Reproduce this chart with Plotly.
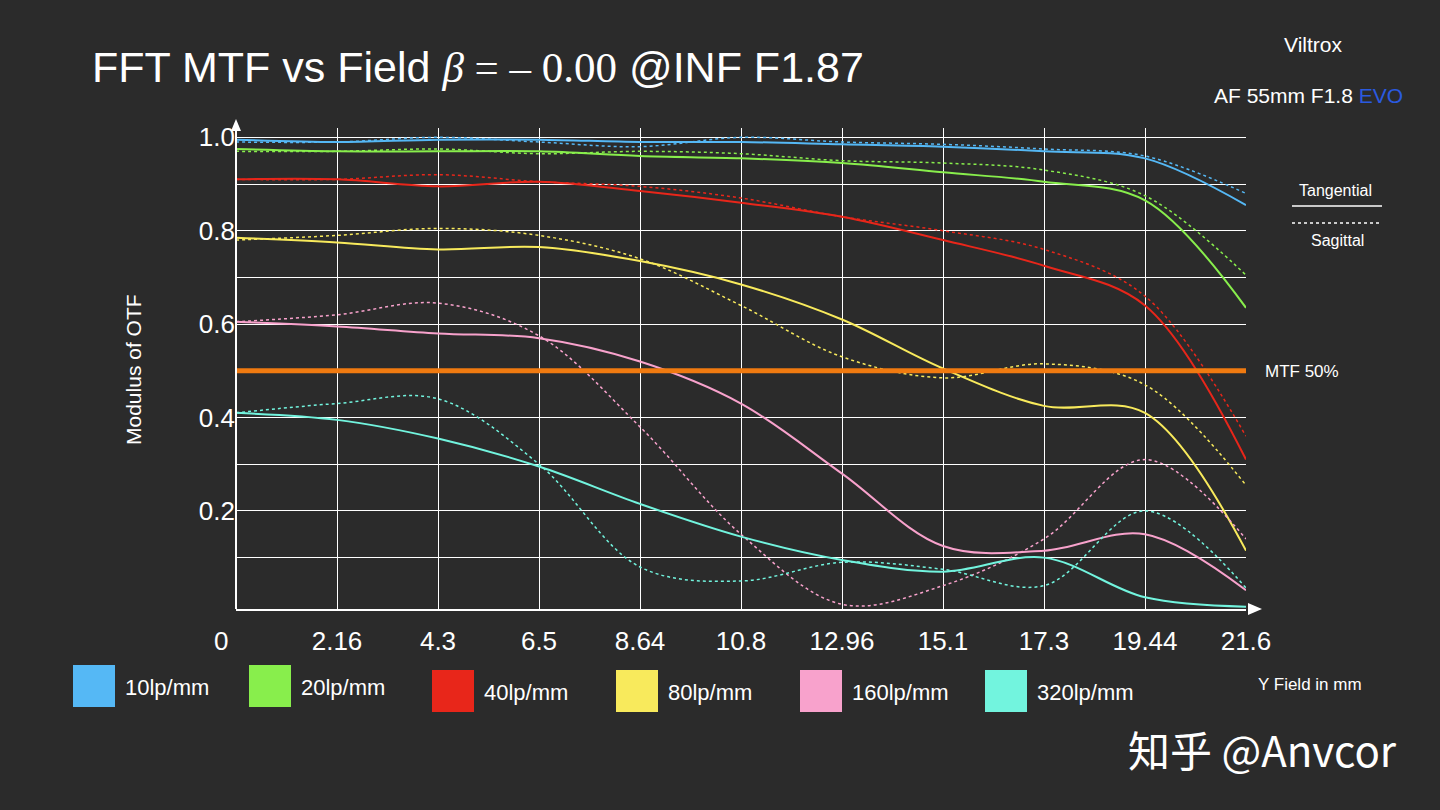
import plotly.graph_objects as go

x = [0, 2.16, 4.32, 6.48, 8.64, 10.8, 12.96, 15.12, 17.28, 19.44, 21.6]
tick_vals = [2.16, 4.32, 6.48, 8.64, 10.8, 12.96, 15.12, 17.28, 19.44, 21.6]
tick_text = ["2.16", "4.3", "6.5", "8.64", "10.8", "12.96", "15.1", "17.3", "19.44", "21.6"]
names = ["10lp/mm", "20lp/mm", "40lp/mm", "80lp/mm", "160lp/mm", "320lp/mm"]
colors = ["#55b8f5", "#88ee4c", "#e8261a", "#f8ea5c", "#f8a2cc", "#72f4de"]
tan = [
    [0.995, 0.99, 0.995, 0.995, 0.99, 0.99, 0.985, 0.98, 0.97, 0.955, 0.855],
    [0.975, 0.97, 0.97, 0.97, 0.96, 0.955, 0.945, 0.925, 0.905, 0.865, 0.635],
    [0.91, 0.91, 0.895, 0.905, 0.885, 0.86, 0.83, 0.78, 0.725, 0.64, 0.31],
    [0.785, 0.775, 0.76, 0.765, 0.735, 0.685, 0.61, 0.505, 0.425, 0.41, 0.115],
    [0.605, 0.595, 0.58, 0.57, 0.52, 0.43, 0.28, 0.125, 0.115, 0.15, 0.03],
    [0.41, 0.395, 0.355, 0.295, 0.215, 0.145, 0.095, 0.07, 0.1, 0.015, -0.005],
]
sag = [
    [0.99, 0.99, 1.0, 0.99, 0.98, 1.0, 0.99, 0.985, 0.975, 0.96, 0.88],
    [0.97, 0.97, 0.975, 0.965, 0.97, 0.965, 0.95, 0.945, 0.93, 0.875, 0.705],
    [0.91, 0.91, 0.92, 0.905, 0.895, 0.87, 0.83, 0.80, 0.76, 0.66, 0.36],
    [0.78, 0.79, 0.805, 0.79, 0.74, 0.64, 0.53, 0.485, 0.515, 0.47, 0.255],
    [0.605, 0.62, 0.645, 0.575, 0.38, 0.15, 0.0, 0.04, 0.14, 0.31, 0.14],
    [0.41, 0.43, 0.44, 0.30, 0.08, 0.05, 0.09, 0.075, 0.04, 0.2, 0.035],
]

fig = go.Figure()
for n, c, t, s in zip(names, colors, tan, sag):
    fig.add_trace(go.Scatter(x=x, y=t, mode="lines", line=dict(color=c, width=2, shape="spline"), name=n))
    fig.add_trace(go.Scatter(x=x, y=s, mode="lines", line=dict(color=c, width=1.5, dash="dot", shape="spline"), name=n + " S"))

fig.add_shape(type="line", x0=0, x1=21.6, y0=0.5, y1=0.5, line=dict(color="#f07a10", width=5))

def px2x(p): return (p - 236) / 1010
def py2y(p): return (609 - p) / 481

shapes = []
annos = []
for i, (n, c) in enumerate(zip(names, colors)):
    px = [73, 249, 432, 616, 800, 985][i]
    py = [665, 665, 670, 670, 670, 670][i]
    shapes.append(dict(type="rect", xref="paper", yref="paper",
                       x0=px2x(px), x1=px2x(px + 42), y0=py2y(py + 42), y1=py2y(py),
                       fillcolor=c, line=dict(width=0)))
    annos.append(dict(text=n, x=px2x(px + 50), y=py2y(py + 22), xanchor="left", font=dict(size=22, color="white")))

shapes.append(dict(type="line", xref="paper", yref="paper", x0=px2x(1292), x1=px2x(1382), y0=py2y(206), y1=py2y(206), line=dict(color="white", width=1.5)))
shapes.append(dict(type="line", xref="paper", yref="paper", x0=px2x(1292), x1=px2x(1382), y0=py2y(223), y1=py2y(223), line=dict(color="white", width=1.5, dash="dot")))
annos += [
    dict(text="Tangential", x=px2x(1335), y=py2y(191), font=dict(size=16, color="white")),
    dict(text="Sagittal", x=px2x(1337), y=py2y(240), font=dict(size=16, color="white")),
    dict(text="MTF 50%", x=px2x(1302), y=py2y(371), font=dict(size=17, color="white")),
    dict(text="Y Field in mm", x=px2x(1310), y=py2y(684), font=dict(size=17, color="white")),
    dict(text="Viltrox", x=px2x(1313), y=py2y(45), font=dict(size=21, color="white")),
    dict(text="AF 55mm F1.8 <span style='color:#2a5ae0'>EVO</span>", x=px2x(1308), y=py2y(95), font=dict(size=21, color="white")),
    dict(text="FFT MTF vs Field <span style='font-family:Liberation Serif'><i>β</i> = – 0.00</span> @INF F1.87",
         x=px2x(90), y=py2y(67), xanchor="left", font=dict(size=43, color="white")),
    dict(text="知乎 @Anvcor", x=px2x(1262), y=py2y(748), font=dict(size=42, color="white", family="Noto Sans CJK SC")),
    dict(text="Modulus of OTF", x=px2x(133), y=py2y(370), textangle=-90, font=dict(size=21, color="white")),
    dict(text="0", x=px2x(221), y=py2y(641), font=dict(size=26, color="white")),
]
for a in annos:
    a.setdefault("xref", "paper"); a.setdefault("yref", "paper")
    a.setdefault("xanchor", "center"); a.setdefault("yanchor", "middle")
    a.setdefault("showarrow", False)
shapes.append(dict(type="path", xref="paper", yref="paper",
                   path=f"M {px2x(231)} {py2y(131)} L {px2x(241)} {py2y(131)} L {px2x(236)} {py2y(119)} Z",
                   fillcolor="white", line=dict(width=0)))
shapes.append(dict(type="path", xref="paper", yref="paper",
                   path=f"M {px2x(1248)} {py2y(603)} L {px2x(1248)} {py2y(615)} L {px2x(1262)} {py2y(609)} Z",
                   fillcolor="white", line=dict(width=0)))
shapes.append(dict(type="line", xref="paper", yref="paper", x0=0, x1=0, y0=0, y1=py2y(128), line=dict(color="white", width=2)))

yt = [round(0.1 * i, 1) for i in range(1, 11)]
ytt = ["" if i % 2 else f"{v:.1f}" for i, v in enumerate(yt, 1)]
for s in shapes:
    fig.add_shape(**s)
fig.update_layout(
    width=1440, height=810, paper_bgcolor="#2b2b2b", plot_bgcolor="#2b2b2b",
    margin=dict(l=236, r=194, t=128, b=201), showlegend=False,
    font=dict(family="Liberation Sans", color="white"), annotations=annos,
    xaxis=dict(range=[0, 21.6], tickvals=tick_vals, ticktext=tick_text, showgrid=True,
               gridcolor="white", gridwidth=1, tickfont=dict(size=26, color="white"),
               showline=True, linecolor="white", linewidth=2, zeroline=False, ticks="", ticklabelstandoff=8),
    yaxis=dict(range=[-0.01, 1.02], tickvals=yt, ticktext=ytt, showgrid=True, gridcolor="white",
               gridwidth=1, tickfont=dict(size=26, color="white"), zeroline=False, ticks="", showline=False),
)
fig.write_html("out.html", config={"displayModeBar": False},
               post_script="document.body.style.margin='0';document.body.style.background='#2b2b2b';")
